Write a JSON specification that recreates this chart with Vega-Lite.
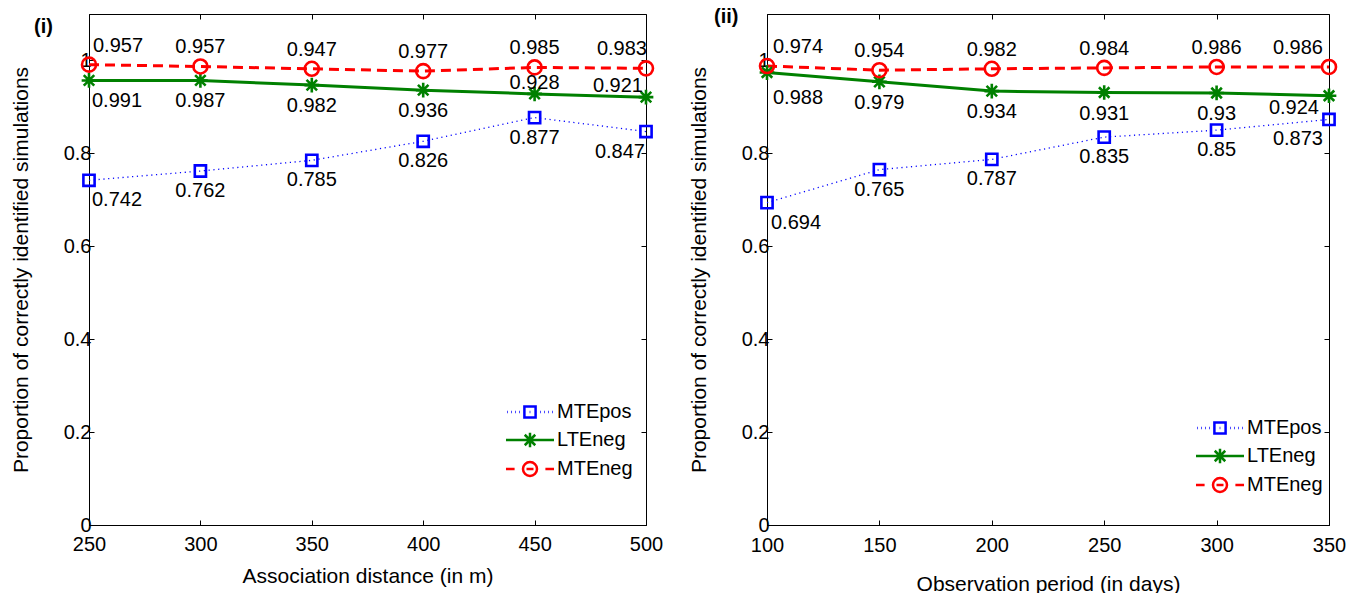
{
  "$schema": "https://vega.github.io/schema/vega-lite/v6.json",
  "autosize": {"type": "pad"},
  "padding": {"left": 9, "top": 6, "right": 5, "bottom": 5},
  "background": "white",
  "datasets": {
    "p1": [
      {"x": 250, "MTEpos": 0.742, "LTEneg": 0.957, "MTEneg": 0.991, "top_label": "0.957", "bottom_label": "0.991", "pos_label": "0.742"},
      {"x": 300, "MTEpos": 0.762, "LTEneg": 0.957, "MTEneg": 0.987, "top_label": "0.957", "bottom_label": "0.987", "pos_label": "0.762"},
      {"x": 350, "MTEpos": 0.785, "LTEneg": 0.947, "MTEneg": 0.982, "top_label": "0.947", "bottom_label": "0.982", "pos_label": "0.785"},
      {"x": 400, "MTEpos": 0.826, "LTEneg": 0.936, "MTEneg": 0.977, "top_label": "0.977", "bottom_label": "0.936", "pos_label": "0.826"},
      {"x": 450, "MTEpos": 0.877, "LTEneg": 0.928, "MTEneg": 0.985, "top_label": "0.985", "bottom_label": "0.928", "pos_label": "0.877"},
      {"x": 500, "MTEpos": 0.847, "LTEneg": 0.921, "MTEneg": 0.983, "top_label": "0.983", "bottom_label": "0.921", "pos_label": "0.847"}
    ],
    "p2": [
      {"x": 100, "MTEpos": 0.694, "LTEneg": 0.974, "MTEneg": 0.988, "top_label": "0.974", "bottom_label": "0.988", "pos_label": "0.694"},
      {"x": 150, "MTEpos": 0.765, "LTEneg": 0.954, "MTEneg": 0.979, "top_label": "0.954", "bottom_label": "0.979", "pos_label": "0.765"},
      {"x": 200, "MTEpos": 0.787, "LTEneg": 0.934, "MTEneg": 0.982, "top_label": "0.982", "bottom_label": "0.934", "pos_label": "0.787"},
      {"x": 250, "MTEpos": 0.835, "LTEneg": 0.931, "MTEneg": 0.984, "top_label": "0.984", "bottom_label": "0.931", "pos_label": "0.835"},
      {"x": 300, "MTEpos": 0.85, "LTEneg": 0.93, "MTEneg": 0.986, "top_label": "0.986", "bottom_label": "0.93", "pos_label": "0.85"},
      {"x": 350, "MTEpos": 0.873, "LTEneg": 0.924, "MTEneg": 0.986, "top_label": "0.986", "bottom_label": "0.924", "pos_label": "0.873"}
    ]
  },
  "hconcat": [
    {
      "width": 557,
      "height": 511,
      "title": {"text": "(i)", "anchor": "start", "frame": "group", "dx": -55, "dy": 0, "offset": -39, "baseline": "alphabetic", "fontSize": 20, "fontWeight": "bold", "font": "Liberation Sans", "color": "black"},
      "data": {"name": "p1"},
      "resolve": {"axis": {"x": "independent", "y": "independent"}, "scale": {"color": "independent", "shape": "independent"}},
      "layer": [
        {
          "mark": {"type": "line", "color": "#0000ff", "strokeWidth": 1.3, "strokeDash": [1.2, 3.6]},
          "encoding": {
            "x": {"field": "x", "type": "quantitative", "scale": {"domain": [250, 500], "nice": false, "zero": false},
                  "axis": {"values": [250, 300, 350, 400, 450, 500], "title": "Association distance (in m)", "tickSize": -5, "labelPadding": 14, "titlePadding": 11, "format": "d"}},
            "y": {"field": "MTEpos", "type": "quantitative", "scale": {"domain": [0, 1.1], "nice": false},
                  "axis": {"values": [0, 0.2, 0.4, 0.6, 0.8, 1], "format": "~g", "title": "Proportion of correctly identified simulations", "tickSize": -5, "labelPadding": 3, "titlePadding": 32}}
          }
        },
        {
          "mark": {"type": "line", "color": "#008000", "strokeWidth": 3},
          "encoding": {
            "x": {"field": "x", "type": "quantitative", "scale": {"domain": [250, 500], "nice": false, "zero": false},
                  "axis": {"orient": "top", "values": [250, 300, 350, 400, 450, 500], "labels": false, "title": null, "domain": false, "tickSize": -5, "labelPadding": 0, "minExtent": 0, "maxExtent": 0}},
            "y": {"field": "LTEneg", "type": "quantitative", "scale": {"domain": [0, 1.1], "nice": false},
                  "axis": {"orient": "right", "values": [0, 0.2, 0.4, 0.6, 0.8, 1], "labels": false, "title": null, "domain": false, "tickSize": -5, "labelPadding": 0, "minExtent": 0, "maxExtent": 0}}
          }
        },
        {
          "mark": {"type": "line", "color": "#ff0000", "strokeWidth": 3, "strokeDash": [10, 6]},
          "encoding": {
            "x": {"field": "x", "type": "quantitative", "scale": {"domain": [250, 500], "nice": false, "zero": false}, "axis": null},
            "y": {"field": "MTEneg", "type": "quantitative", "scale": {"domain": [0, 1.1], "nice": false}, "axis": null}
          }
        },
        {
          "transform": [{"fold": ["MTEpos", "LTEneg", "MTEneg"], "as": ["series", "value"]}],
          "mark": {"type": "point", "filled": false, "size": 196, "strokeWidth": 2.6, "opacity": 1},
          "encoding": {
            "x": {"field": "x", "type": "quantitative", "scale": {"domain": [250, 500], "nice": false, "zero": false}, "axis": null},
            "y": {"field": "value", "type": "quantitative", "scale": {"domain": [0, 1.1], "nice": false}, "axis": null},
            "color": {"field": "series", "type": "nominal", "legend": null,
              "scale": {"domain": ["MTEpos", "LTEneg", "MTEneg"], "range": ["#0000ff", "#008000", "#ff0000"]}},
            "shape": {"field": "series", "type": "nominal", "legend": null,
              "scale": {"domain": ["MTEpos", "LTEneg", "MTEneg"], "range": ["M-0.8,-0.8H0.8V0.8H-0.8Z", "M0,-1.05V1.05M-1.05,0H1.05M-0.75,-0.75L0.75,0.75M-0.75,0.75L0.75,-0.75", "M-1,0A1,1 0 1,0 1,0A1,1 0 1,0 -1,0"]}}
          }
        },
        {
          "transform": [{"fold": ["MTEpos", "LTEneg", "MTEneg"], "as": ["series", "value"]}, {"filter": "false"}],
          "mark": {"type": "point", "filled": false, "size": 196, "strokeWidth": 2.5, "opacity": 1},
          "encoding": {
            "x": {"field": "x", "type": "quantitative", "scale": {"domain": [250, 500], "nice": false, "zero": false}, "axis": null},
            "y": {"field": "value", "type": "quantitative", "scale": {"domain": [0, 1.1], "nice": false}, "axis": null},
            "color": {"field": "series", "type": "nominal",
              "scale": {"domain": ["MTEpos", "LTEneg", "MTEneg"], "range": ["#0000ff", "#008000", "#ff0000"]},
              "legend": {"title": null, "orient": "none", "legendX": 431, "legendY": 388, "labelFontSize": 20, "labelOffset": 17, "rowPadding": 4, "symbolStrokeWidth": 2.5, "symbolSize": 196, "symbolOpacity": 1}},
            "shape": {"field": "series", "type": "nominal",
              "scale": {"domain": ["MTEpos", "LTEneg", "MTEneg"], "range": [
                "M-0.8,-0.8H0.8V0.8H-0.8Z M-3.25,0H-3.15 M-2.68,0H-2.58 M-2.11,0H-2.01 M-1.54,0H-1.44 M-0.05,0H0.05 M1.44,0H1.54 M2.01,0H2.11 M2.58,0H2.68 M3.15,0H3.25",
                "M-3.43,0H3.43 M0,-1.05V1.05 M-0.75,-0.75L0.75,0.75 M-0.75,0.75L0.75,-0.75",
                "M-3.43,0H-2.2 M2.2,0H3.43 M-0.5,0H0.5 M-1,0A1,1 0 1,0 1,0A1,1 0 1,0 -1,0"]},
              "legend": {"title": null, "orient": "none", "legendX": 431, "legendY": 388, "labelFontSize": 20, "labelOffset": 17, "rowPadding": 4, "symbolStrokeWidth": 2.5, "symbolSize": 196, "symbolOpacity": 1}}
          }
        },
        {
          "mark": {"type": "text", "fontSize": 20, "font": "Liberation Sans", "color": "black", "baseline": "middle", "dy": -19,
                   "align": {"expr": "datum.x == 250 ? 'left' : datum.x == 500 ? 'right' : 'center'"},
                   "dx": {"expr": "datum.x == 250 ? 4 : datum.x == 500 ? 1 : 0"}},
          "encoding": {
            "x": {"field": "x", "type": "quantitative", "scale": {"domain": [250, 500], "nice": false, "zero": false}, "axis": null},
            "y": {"field": "MTEneg", "type": "quantitative", "scale": {"domain": [0, 1.1], "nice": false}, "axis": null},
            "text": {"field": "top_label", "type": "nominal"}
          }
        },
        {
          "mark": {"type": "text", "fontSize": 20, "font": "Liberation Sans", "color": "black", "baseline": "middle",
                   "dy": {"expr": "datum.x >= 450 ? -11 : 21"},
                   "align": {"expr": "datum.x == 250 ? 'left' : datum.x == 500 ? 'right' : 'center'"},
                   "dx": {"expr": "datum.x == 250 ? 3 : datum.x == 500 ? -3 : 0"}},
          "encoding": {
            "x": {"field": "x", "type": "quantitative", "scale": {"domain": [250, 500], "nice": false, "zero": false}, "axis": null},
            "y": {"field": "LTEneg", "type": "quantitative", "scale": {"domain": [0, 1.1], "nice": false}, "axis": null},
            "text": {"field": "bottom_label", "type": "nominal"}
          }
        },
        {
          "mark": {"type": "text", "fontSize": 20, "font": "Liberation Sans", "color": "black", "baseline": "middle", "dy": 20,
                   "align": {"expr": "datum.x == 250 ? 'left' : datum.x == 500 ? 'right' : 'center'"},
                   "dx": {"expr": "datum.x == 250 ? 3 : datum.x == 500 ? -1 : 0"}},
          "encoding": {
            "x": {"field": "x", "type": "quantitative", "scale": {"domain": [250, 500], "nice": false, "zero": false}, "axis": null},
            "y": {"field": "MTEpos", "type": "quantitative", "scale": {"domain": [0, 1.1], "nice": false}, "axis": null},
            "text": {"field": "pos_label", "type": "nominal"}
          }
        }
      ]
    },
    {
      "width": 562,
      "height": 511,
      "title": {"text": "(ii)", "anchor": "start", "frame": "group", "dx": -53, "dy": 0, "offset": -29, "baseline": "alphabetic", "fontSize": 20, "fontWeight": "bold", "font": "Liberation Sans", "color": "black"},
      "data": {"name": "p2"},
      "resolve": {"axis": {"x": "independent", "y": "independent"}, "scale": {"color": "independent", "shape": "independent"}},
      "layer": [
        {
          "mark": {"type": "line", "color": "#0000ff", "strokeWidth": 1.3, "strokeDash": [1.2, 3.6]},
          "encoding": {
            "x": {"field": "x", "type": "quantitative", "scale": {"domain": [100, 350], "nice": false, "zero": false},
                  "axis": {"values": [100, 150, 200, 250, 300, 350], "title": "Observation period (in days)", "tickSize": -5, "labelPadding": 15, "titlePadding": 18, "format": "d"}},
            "y": {"field": "MTEpos", "type": "quantitative", "scale": {"domain": [0, 1.1], "nice": false},
                  "axis": {"values": [0, 0.2, 0.4, 0.6, 0.8, 1], "format": "~g", "title": "Proportion of correctly identified simulations", "tickSize": -5, "labelPadding": 3, "titlePadding": 32}}
          }
        },
        {
          "mark": {"type": "line", "color": "#008000", "strokeWidth": 3},
          "encoding": {
            "x": {"field": "x", "type": "quantitative", "scale": {"domain": [100, 350], "nice": false, "zero": false},
                  "axis": {"orient": "top", "values": [100, 150, 200, 250, 300, 350], "labels": false, "title": null, "domain": false, "tickSize": -5, "labelPadding": 0, "minExtent": 0, "maxExtent": 0}},
            "y": {"field": "LTEneg", "type": "quantitative", "scale": {"domain": [0, 1.1], "nice": false},
                  "axis": {"orient": "right", "values": [0, 0.2, 0.4, 0.6, 0.8, 1], "labels": false, "title": null, "domain": false, "tickSize": -5, "labelPadding": 0, "minExtent": 0, "maxExtent": 0}}
          }
        },
        {
          "mark": {"type": "line", "color": "#ff0000", "strokeWidth": 3, "strokeDash": [10, 6]},
          "encoding": {
            "x": {"field": "x", "type": "quantitative", "scale": {"domain": [100, 350], "nice": false, "zero": false}, "axis": null},
            "y": {"field": "MTEneg", "type": "quantitative", "scale": {"domain": [0, 1.1], "nice": false}, "axis": null}
          }
        },
        {
          "transform": [{"fold": ["MTEpos", "LTEneg", "MTEneg"], "as": ["series", "value"]}],
          "mark": {"type": "point", "filled": false, "size": 196, "strokeWidth": 2.6, "opacity": 1},
          "encoding": {
            "x": {"field": "x", "type": "quantitative", "scale": {"domain": [100, 350], "nice": false, "zero": false}, "axis": null},
            "y": {"field": "value", "type": "quantitative", "scale": {"domain": [0, 1.1], "nice": false}, "axis": null},
            "color": {"field": "series", "type": "nominal", "legend": null,
              "scale": {"domain": ["MTEpos", "LTEneg", "MTEneg"], "range": ["#0000ff", "#008000", "#ff0000"]}},
            "shape": {"field": "series", "type": "nominal", "legend": null,
              "scale": {"domain": ["MTEpos", "LTEneg", "MTEneg"], "range": ["M-0.8,-0.8H0.8V0.8H-0.8Z", "M0,-1.05V1.05M-1.05,0H1.05M-0.75,-0.75L0.75,0.75M-0.75,0.75L0.75,-0.75", "M-1,0A1,1 0 1,0 1,0A1,1 0 1,0 -1,0"]}}
          }
        },
        {
          "transform": [{"fold": ["MTEpos", "LTEneg", "MTEneg"], "as": ["series", "value"]}, {"filter": "false"}],
          "mark": {"type": "point", "filled": false, "size": 196, "strokeWidth": 2.5, "opacity": 1},
          "encoding": {
            "x": {"field": "x", "type": "quantitative", "scale": {"domain": [100, 350], "nice": false, "zero": false}, "axis": null},
            "y": {"field": "value", "type": "quantitative", "scale": {"domain": [0, 1.1], "nice": false}, "axis": null},
            "color": {"field": "series", "type": "nominal",
              "scale": {"domain": ["MTEpos", "LTEneg", "MTEneg"], "range": ["#0000ff", "#008000", "#ff0000"]},
              "legend": {"title": null, "orient": "none", "legendX": 443, "legendY": 404, "labelFontSize": 20, "labelOffset": 17, "rowPadding": 4, "symbolStrokeWidth": 2.5, "symbolSize": 196, "symbolOpacity": 1}},
            "shape": {"field": "series", "type": "nominal",
              "scale": {"domain": ["MTEpos", "LTEneg", "MTEneg"], "range": [
                "M-0.8,-0.8H0.8V0.8H-0.8Z M-3.25,0H-3.15 M-2.68,0H-2.58 M-2.11,0H-2.01 M-1.54,0H-1.44 M-0.05,0H0.05 M1.44,0H1.54 M2.01,0H2.11 M2.58,0H2.68 M3.15,0H3.25",
                "M-3.43,0H3.43 M0,-1.05V1.05 M-0.75,-0.75L0.75,0.75 M-0.75,0.75L0.75,-0.75",
                "M-3.43,0H-2.2 M2.2,0H3.43 M-0.5,0H0.5 M-1,0A1,1 0 1,0 1,0A1,1 0 1,0 -1,0"]},
              "legend": {"title": null, "orient": "none", "legendX": 443, "legendY": 404, "labelFontSize": 20, "labelOffset": 17, "rowPadding": 4, "symbolStrokeWidth": 2.5, "symbolSize": 196, "symbolOpacity": 1}}
          }
        },
        {
          "mark": {"type": "text", "fontSize": 20, "font": "Liberation Sans", "color": "black", "baseline": "middle", "dy": -19,
                   "align": {"expr": "datum.x == 100 ? 'left' : datum.x == 350 ? 'right' : 'center'"},
                   "dx": {"expr": "datum.x == 100 ? 6 : datum.x == 350 ? -6 : 0"}},
          "encoding": {
            "x": {"field": "x", "type": "quantitative", "scale": {"domain": [100, 350], "nice": false, "zero": false}, "axis": null},
            "y": {"field": "MTEneg", "type": "quantitative", "scale": {"domain": [0, 1.1], "nice": false}, "axis": null},
            "text": {"field": "top_label", "type": "nominal"}
          }
        },
        {
          "mark": {"type": "text", "fontSize": 20, "font": "Liberation Sans", "color": "black", "baseline": "middle",
                   "dy": {"expr": "datum.x == 350 ? 12 : datum.x == 100 ? 25 : 21"},
                   "align": {"expr": "datum.x == 100 ? 'left' : datum.x == 350 ? 'right' : 'center'"},
                   "dx": {"expr": "datum.x == 100 ? 6 : datum.x == 350 ? -10 : 0"}},
          "encoding": {
            "x": {"field": "x", "type": "quantitative", "scale": {"domain": [100, 350], "nice": false, "zero": false}, "axis": null},
            "y": {"field": "LTEneg", "type": "quantitative", "scale": {"domain": [0, 1.1], "nice": false}, "axis": null},
            "text": {"field": "bottom_label", "type": "nominal"}
          }
        },
        {
          "mark": {"type": "text", "fontSize": 20, "font": "Liberation Sans", "color": "black", "baseline": "middle", "dy": 20,
                   "align": {"expr": "datum.x == 100 ? 'left' : datum.x == 350 ? 'right' : 'center'"},
                   "dx": {"expr": "datum.x == 100 ? 4 : datum.x == 350 ? -6 : 0"}},
          "encoding": {
            "x": {"field": "x", "type": "quantitative", "scale": {"domain": [100, 350], "nice": false, "zero": false}, "axis": null},
            "y": {"field": "MTEpos", "type": "quantitative", "scale": {"domain": [0, 1.1], "nice": false}, "axis": null},
            "text": {"field": "pos_label", "type": "nominal"}
          }
        }
      ]
    }
  ],
  "spacing": 121,
  "bounds": "flush",
  "resolve": {"scale": {"color": "independent", "shape": "independent"}},
  "config": {
    "font": "Liberation Sans",
    "view": {"stroke": "black", "strokeWidth": 1},
    "axis": {
      "labelFont": "Liberation Sans", "titleFont": "Liberation Sans",
      "labelFontSize": 20, "titleFontSize": 21, "titleFontWeight": "normal",
      "labelColor": "black", "titleColor": "black", "domainColor": "black", "tickColor": "black",
      "domainWidth": 1, "tickWidth": 1, "grid": false, "labelFlush": false, "labelOverlap": false
    },
    "legend": {"labelFont": "Liberation Sans", "labelColor": "black"}
  }
}
